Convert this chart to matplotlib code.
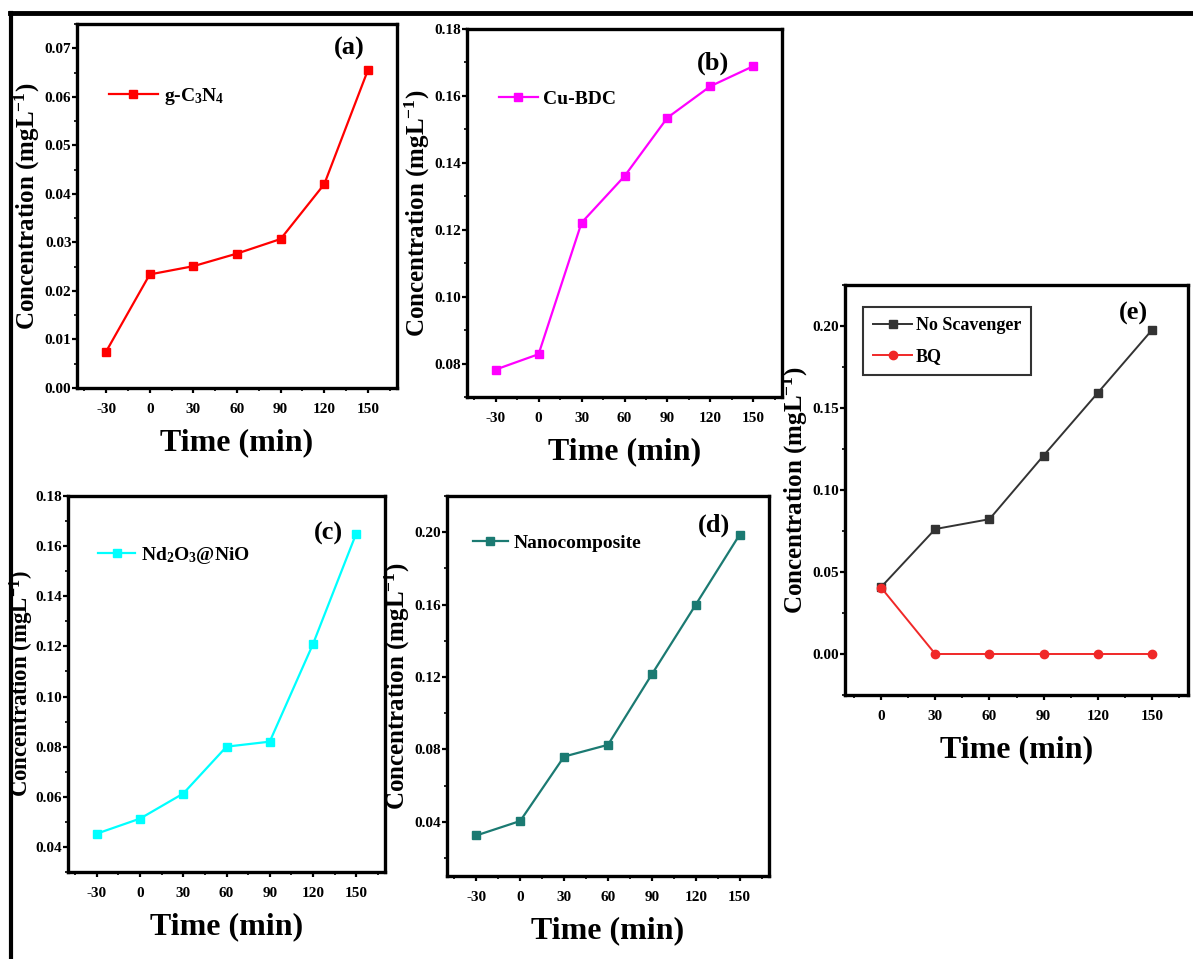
import numpy as np
import matplotlib
matplotlib.use('Agg')
import matplotlib.pyplot as plt
from matplotlib.ticker import MultipleLocator, FormatStrFormatter
from matplotlib.lines import Line2D

plt.rcParams['font.family'] = 'Liberation Serif'
plt.rcParams['font.weight'] = 'bold'
plt.rcParams['axes.unicode_minus'] = False
plt.rcParams['mathtext.fontset'] = 'custom'
plt.rcParams['mathtext.rm'] = 'Liberation Serif:bold'
plt.rcParams['mathtext.it'] = 'Liberation Serif:bold'
plt.rcParams['mathtext.bf'] = 'Liberation Serif:bold'

# data
time = [-30, 0, 30, 60, 90, 120, 150]
time_e = [0, 30, 60, 90, 120, 150]
gc3n4 = [0.0075, 0.0234, 0.0251, 0.0277, 0.0307, 0.0420, 0.0655]
cubdc = [0.0782, 0.0828, 0.1221, 0.1360, 0.1535, 0.1629, 0.1689]
nd2o3_nio = [0.0453, 0.0513, 0.0613, 0.0800, 0.0820, 0.1209, 0.1650]
nanocomp = [0.0324, 0.0404, 0.0760, 0.0825, 0.1215, 0.1600, 0.1987]
no_scav = [0.0408, 0.0762, 0.0822, 0.1210, 0.1592, 0.1975]
bq = [0.0405, 0.0, 0.0, 0.0, 0.0, 0.0]

W, H = 1193, 959
fig = plt.figure(figsize=(W / 100, H / 100), dpi=100)


def rect(l, t, r, b):
    return [l / W, 1 - b / H, (r - l) / W, (b - t) / H]


def style(ax, ylim, ymaj, ymin, xlim, xticks, label, lx, ly, wpx, yls=18, yoff=35):
    for s in ax.spines.values():
        s.set_linewidth(2.4)
    ax.set_xlim(*xlim)
    ax.set_ylim(*ylim)
    ax.set_xticks(xticks)
    ax.xaxis.set_minor_locator(MultipleLocator(15))
    ax.yaxis.set_major_locator(MultipleLocator(ymaj))
    ax.yaxis.set_minor_locator(MultipleLocator(ymin))
    ax.yaxis.set_major_formatter(FormatStrFormatter('%.2f'))
    ax.tick_params(which='major', direction='out', length=3.5, width=1.6,
                   labelsize=11, top=False, right=False)
    ax.tick_params(axis='y', which='major', pad=0.5)
    ax.tick_params(axis='x', which='major', pad=7)
    ax.tick_params(which='minor', direction='out', length=2.5, width=1.2,
                   top=False, right=False)
    ax.set_xlabel('Time (min)', fontsize=23, fontweight='bold', labelpad=9)
    ax.set_ylabel('Concentration (mgL$^{-1}$)', fontsize=yls, fontweight='bold')
    ax.yaxis.set_label_coords(-yoff / wpx, 0.5)
    ax.text(lx, ly, label, transform=ax.transAxes, fontsize=19,
            fontweight='bold', ha='center', va='center')


# (a)
ax = fig.add_axes(rect(77, 24, 397, 388))
ax.plot(time, gc3n4, color='#ff0000', marker='s', ms=6, lw=1.6, label='g-C$_3$N$_4$')
style(ax, (0, 0.075), 0.01, 0.005, (-50, 170), time, '(a)', 0.85, 0.934, 320)
ax.legend(loc='center left', bbox_to_anchor=(0.07, 0.80), frameon=False,
          fontsize=14, handlelength=2.5, handletextpad=0.3, borderpad=0)

# (b)
ax = fig.add_axes(rect(467, 29, 782, 397))
ax.plot(time, cubdc, color='#ff00ff', marker='s', ms=6, lw=1.6, label='Cu-BDC')
style(ax, (0.07, 0.18), 0.02, 0.01, (-50, 170), time, '(b)', 0.78, 0.908, 315)
ax.legend(loc='center left', bbox_to_anchor=(0.07, 0.81), frameon=False,
          fontsize=14, handlelength=2.0, handletextpad=0.3, borderpad=0)

# (c)
ax = fig.add_axes(rect(68, 496, 385, 872))
ax.plot(time, nd2o3_nio, color='#00ffff', marker='s', ms=6, lw=1.6, label='Nd$_2$O$_3$@NiO')
style(ax, (0.03, 0.18), 0.02, 0.01, (-50, 170), time, '(c)', 0.82, 0.90, 317, yls=16.5, yoff=32)
ax.legend(loc='center left', bbox_to_anchor=(0.065, 0.843), frameon=False,
          fontsize=14, handlelength=1.9, handletextpad=0.3, borderpad=0)

# (d)
ax = fig.add_axes(rect(447, 496, 769, 876))
ax.plot(time, nanocomp, color='#1b7a72', marker='s', ms=6, lw=1.6, label='Nanocomposite')
style(ax, (0.01, 0.22), 0.04, 0.02, (-50, 170), time, '(d)', 0.83, 0.924, 322)
ax.legend(loc='center left', bbox_to_anchor=(0.05, 0.876), frameon=False,
          fontsize=14, handlelength=1.8, handletextpad=0.3, borderpad=0)

# (e)
ax = fig.add_axes(rect(845, 285, 1188, 695))
ax.plot(time_e, no_scav, color='#333333', marker='s', ms=6, lw=1.4, label='No Scavenger')
ax.plot(time_e, bq, color='#f02828', marker='o', ms=6, lw=1.4, label='BQ')
style(ax, (-0.025, 0.225), 0.05, 0.025, (-20, 170), time_e, '(e)', 0.84, 0.93, 343)
leg = ax.legend(loc='upper left', bbox_to_anchor=(0.052, 0.946), frameon=True,
                fancybox=False, edgecolor='black', fontsize=13, handlelength=2.2,
                handletextpad=0.2, borderpad=0.55, labelspacing=0.8, borderaxespad=0)
leg.get_frame().set_linewidth(1.5)

# outer frame lines (top and left)
fig.add_artist(Line2D([10 / W, 1], [1 - 13 / H, 1 - 13 / H], color='black', lw=3.5))
fig.add_artist(Line2D([11 / W, 11 / W], [0, 1 - 13 / H], color='black', lw=3.0))

fig.savefig('out.png', dpi=100)
